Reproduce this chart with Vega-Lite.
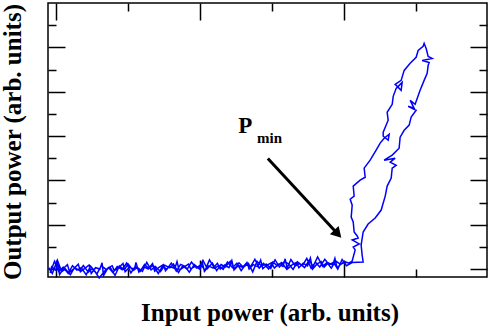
{
"$schema": "https://vega.github.io/schema/vega-lite/v6.json",
"width": 439, "height": 274,
"autosize": {"type": "none"},
"padding": {"left": 48, "top": 3, "right": 4, "bottom": 50},
"background": "white",
"config": {
  "view": {"stroke": "black", "strokeWidth": 1.5},
  "axis": {"domain": false, "labels": false, "grid": false, "tickColor": "black", "tickWidth": 1.5,
    "tickSize": {"condition": {"test": "datum.value % 2 === 0", "value": -17}, "value": -8},
    "titleFont": "Liberation Serif", "titleFontWeight": "bold", "titleFontSize": 25, "titleColor": "black"}
},
"datasets": {
  "trace": [
{"x":-0.10,"y":0.06},{"x":-0.05,"y":-0.20},{"x":0.02,"y":0.40},{"x":0.08,"y":-0.12},{"x":0.13,"y":0.01},{"x":0.20,"y":-0.26},{"x":0.26,"y":0.07},{"x":0.33,"y":-0.08},{"x":0.38,"y":0.16},{"x":0.45,"y":-0.14},{"x":0.50,"y":0.01},{"x":0.57,"y":-0.21},{"x":0.63,"y":0.15},{"x":0.70,"y":-0.03},{"x":0.75,"y":0.09},{"x":0.82,"y":-0.29},{"x":0.88,"y":0.14},{"x":0.95,"y":-0.04},{"x":1.00,"y":0.23},{"x":1.07,"y":-0.07},{"x":1.13,"y":0.07},{"x":1.20,"y":-0.10},{"x":1.26,"y":0.30},{"x":1.32,"y":-0.04},{"x":1.38,"y":0.11},{"x":1.45,"y":-0.12},{"x":1.51,"y":0.17},{"x":1.58,"y":0.05},{"x":1.63,"y":0.23},{"x":1.70,"y":-0.16},{"x":1.76,"y":0.15},{"x":1.82,"y":-0.02},{"x":1.88,"y":0.31},{"x":1.95,"y":0.05},{"x":2.01,"y":0.19},{"x":2.07,"y":-0.06},{"x":2.13,"y":0.41},{"x":2.20,"y":0.04},{"x":2.26,"y":0.15},{"x":2.32,"y":-0.01},{"x":2.38,"y":0.32},{"x":2.45,"y":0.06},{"x":2.51,"y":0.26},{"x":2.57,"y":-0.07},{"x":2.63,"y":0.20},{"x":2.70,"y":0.11},{"x":2.76,"y":0.44},{"x":2.82,"y":0.04},{"x":2.88,"y":0.25},{"x":2.95,"y":0.00},{"x":3.01,"y":0.32},{"x":3.07,"y":0.15},{"x":3.13,"y":0.29},{"x":3.20,"y":0.00},{"x":3.26,"y":0.43},{"x":3.32,"y":0.14},{"x":3.38,"y":0.24},{"x":3.45,"y":0.06},{"x":3.51,"y":0.38},{"x":3.57,"y":0.13},{"x":3.63,"y":0.55},{"x":3.70,"y":0.12},{"x":3.76,"y":0.29},{"x":3.82,"y":0.04},{"x":3.88,"y":0.37},{"x":3.95,"y":0.20},{"x":4.00,"y":0.33},{"x":4.06,"y":0.27},
{"x":4.110,"y":0.36},{"x":4.151,"y":0.86},{"x":4.124,"y":0.99},{"x":4.207,"y":1.13},{"x":4.110,"y":1.31},{"x":4.193,"y":1.40},{"x":4.179,"y":1.49},{"x":4.137,"y":1.67},{"x":4.124,"y":2.12},{"x":4.096,"y":2.34},{"x":4.110,"y":2.88},{"x":4.082,"y":3.15},{"x":4.137,"y":3.29},{"x":4.124,"y":3.74},{"x":4.220,"y":4.01},{"x":4.290,"y":4.14},{"x":4.276,"y":4.55},{"x":4.359,"y":4.91},{"x":4.442,"y":5.36},{"x":4.498,"y":5.68},{"x":4.553,"y":5.90},{"x":4.623,"y":6.08},{"x":4.609,"y":5.81},{"x":4.540,"y":5.99},{"x":4.540,"y":6.17},{"x":4.609,"y":6.71},{"x":4.595,"y":7.07},{"x":4.665,"y":7.43},{"x":4.679,"y":7.79},{"x":4.720,"y":8.15},{"x":4.803,"y":8.42},{"x":4.789,"y":8.06},{"x":4.706,"y":8.33},{"x":4.789,"y":8.51},{"x":4.831,"y":8.96},{"x":4.914,"y":9.28},{"x":4.997,"y":9.55},{"x":5.025,"y":9.86},{"x":5.094,"y":10.05},{"x":5.108,"y":10.18},{"x":5.136,"y":9.95},{"x":5.164,"y":9.59},{"x":5.219,"y":9.50},{"x":5.081,"y":9.41},{"x":5.178,"y":9.32},{"x":5.164,"y":9.19},{"x":5.150,"y":8.83},{"x":5.108,"y":8.51},{"x":5.052,"y":8.06},{"x":4.983,"y":7.43},{"x":4.914,"y":7.61},{"x":4.969,"y":7.25},{"x":4.886,"y":7.34},{"x":4.997,"y":7.16},{"x":4.928,"y":6.85},{"x":4.900,"y":6.49},{"x":4.831,"y":6.26},{"x":4.775,"y":5.95},{"x":4.761,"y":5.45},{"x":4.665,"y":5.14},{"x":4.553,"y":4.91},{"x":4.706,"y":5.00},{"x":4.637,"y":4.82},{"x":4.720,"y":4.68},{"x":4.665,"y":4.55},{"x":4.651,"y":4.10},{"x":4.595,"y":3.74},{"x":4.568,"y":3.29},{"x":4.512,"y":2.66},{"x":4.429,"y":2.30},{"x":4.331,"y":2.03},{"x":4.262,"y":1.67},{"x":4.234,"y":1.08},{"x":4.248,"y":0.63},{"x":4.262,"y":0.32},{"x":4.110,"y":0.29},
{"x":4.03,"y":0.15},{"x":3.97,"y":0.43},{"x":3.91,"y":-0.01},{"x":3.85,"y":0.30},{"x":3.79,"y":0.19},{"x":3.73,"y":0.44},{"x":3.66,"y":0.09},{"x":3.60,"y":0.31},{"x":3.54,"y":0.04},{"x":3.48,"y":0.48},{"x":3.42,"y":0.15},{"x":3.35,"y":0.32},{"x":3.29,"y":-0.02},{"x":3.23,"y":0.22},{"x":3.17,"y":0.34},{"x":3.10,"y":0.09},{"x":3.04,"y":0.42},{"x":2.98,"y":0.02},{"x":2.92,"y":0.22},{"x":2.85,"y":0.14},{"x":2.79,"y":0.35},{"x":2.73,"y":-0.13},{"x":2.67,"y":0.25},{"x":2.60,"y":0.08},{"x":2.54,"y":0.28},{"x":2.48,"y":0.02},{"x":2.42,"y":0.35},{"x":2.35,"y":0.09},{"x":2.29,"y":0.20},{"x":2.23,"y":-0.07},{"x":2.17,"y":0.27},{"x":2.10,"y":0.01},{"x":2.04,"y":0.39},{"x":1.98,"y":0.04},{"x":1.92,"y":0.20},{"x":1.85,"y":-0.14},{"x":1.79,"y":0.12},{"x":1.73,"y":0.21},{"x":1.67,"y":-0.09},{"x":1.60,"y":0.27},{"x":1.54,"y":-0.01},{"x":1.48,"y":0.13},{"x":1.42,"y":-0.20},{"x":1.35,"y":0.17},{"x":1.29,"y":0.02},{"x":1.23,"y":0.21},{"x":1.17,"y":-0.10},{"x":1.10,"y":0.12},{"x":1.04,"y":-0.18},{"x":0.98,"y":0.27},{"x":0.92,"y":-0.03},{"x":0.85,"y":0.11},{"x":0.79,"y":-0.16},{"x":0.73,"y":0.07},{"x":0.67,"y":-0.11},{"x":0.60,"y":-0.40},{"x":0.54,"y":-0.10},{"x":0.48,"y":0.13},{"x":0.42,"y":-0.26},{"x":0.35,"y":0.06},{"x":0.29,"y":-0.05},{"x":0.23,"y":0.15},{"x":0.17,"y":-0.20},{"x":0.10,"y":0.08},{"x":0.04,"y":-0.12},{"x":-0.02,"y":0.35},{"x":-0.08,"y":-0.18},
{"x":-0.06,"y":0.10},{"x":0.00,"y":-0.05},{"x":0.03,"y":0.30},{"x":0.05,"y":-0.25},{"x":0.11,"y":0.05},{"x":0.16,"y":0.20},{"x":0.19,"y":-0.15},{"x":0.25,"y":0.02},{"x":0.31,"y":0.22},{"x":0.34,"y":-0.12},{"x":0.40,"y":0.03},{"x":0.46,"y":0.18},{"x":0.49,"y":-0.20},{"x":0.55,"y":0.06},{"x":0.61,"y":0.00},{"x":0.64,"y":0.28},{"x":0.66,"y":-0.30},{"x":0.72,"y":0.04},{"x":0.78,"y":0.15},{"x":0.81,"y":-0.08},{"x":0.87,"y":0.06},{"x":0.93,"y":0.25},{"x":0.96,"y":-0.12},{"x":1.02,"y":0.08},{"x":1.09,"y":-0.02},{"x":1.11,"y":0.30},{"x":1.15,"y":-0.14},{"x":1.22,"y":0.10},{"x":1.28,"y":0.00},{"x":1.34,"y":0.24},{"x":1.37,"y":-0.10},{"x":1.43,"y":0.08},{"x":1.49,"y":0.20},{"x":1.52,"y":-0.08},{"x":1.57,"y":0.12},{"x":1.65,"y":0.02},{"x":1.68,"y":0.34},{"x":1.71,"y":-0.06},{"x":1.78,"y":0.10},{"x":1.84,"y":0.22},{"x":1.87,"y":0.00},{"x":1.93,"y":0.12},{"x":2.00,"y":-0.02},{"x":2.03,"y":0.30},{"x":2.06,"y":-0.10},{"x":2.12,"y":0.14},{"x":2.18,"y":0.04},{"x":2.24,"y":0.26},{"x":2.28,"y":0.00},{"x":2.34,"y":0.18},{"x":2.40,"y":0.06},{"x":2.44,"y":0.38},{"x":2.47,"y":-0.04},{"x":2.53,"y":0.16},{"x":2.59,"y":0.08},{"x":2.65,"y":0.30},{"x":2.68,"y":0.00},{"x":2.74,"y":0.20},{"x":2.80,"y":0.10},{"x":2.84,"y":0.40},{"x":2.87,"y":0.02},{"x":2.93,"y":0.18},{"x":2.99,"y":0.28},{"x":3.03,"y":0.04},{"x":3.09,"y":0.22},{"x":3.15,"y":0.12},{"x":3.18,"y":0.46},{"x":3.21,"y":0.00},{"x":3.28,"y":0.20},{"x":3.34,"y":0.30},{"x":3.37,"y":0.06},{"x":3.43,"y":0.26},{"x":3.49,"y":0.14},{"x":3.53,"y":0.50},{"x":3.56,"y":0.00},{"x":3.62,"y":0.22},{"x":3.68,"y":0.34},{"x":3.72,"y":0.08},{"x":3.78,"y":0.28},{"x":3.84,"y":0.18},{"x":3.87,"y":0.48},{"x":3.90,"y":0.06},{"x":3.96,"y":0.24},{"x":4.02,"y":0.30},{"x":4.08,"y":0.26}
  ],
  "arrow": [{"x": 2.94, "y": 4.99, "x2": 3.91, "y2": 1.58}],
  "head": [{"x": 3.91, "y": 1.58}],
  "labelP": [{"x": 2.528, "y": 6.126, "label": "P"}],
  "labelMin": [{"x": 2.791, "y": 5.676, "label": "min"}]
},
"resolve": {"axis": {"x": "independent", "y": "independent"}},
"layer": [
  {
    "data": {"name": "trace"},
    "mark": {"type": "line", "color": "#0000ff", "strokeWidth": 1.5},
    "encoding": {
      "x": {"field": "x", "type": "quantitative", "scale": {"domain": [-0.11, 5.98], "nice": false, "zero": false},
        "axis": {"orient": "bottom", "values": [0,1,2,3,4,5], "title": "Input power (arb. units)", "titleX": 221.5, "titleY": 43, "titleBaseline": "alphabetic", "titleAlign": "center", "titleAnchor": null}},
      "y": {"field": "y", "type": "quantitative", "scale": {"domain": [-0.36, 12], "nice": false, "zero": false},
        "axis": {"orient": "left", "values": [0,1,2,3,4,5,6,7,8,9,10,11], "title": "Output power (arb. units)", "titleX": -28, "titleY": 138.5, "titleAngle": 270, "titleBaseline": "alphabetic", "titleAlign": "center", "titleAnchor": null}},
      "order": {"value": null}
    }
  },
  {
    "data": {"name": "arrow"},
    "mark": {"type": "rule", "color": "black", "strokeWidth": 3},
    "encoding": {
      "x": {"field": "x", "type": "quantitative", "scale": {"domain": [-0.11, 5.98], "nice": false, "zero": false},
        "axis": {"orient": "top", "values": [0,1,2,3,4,5], "title": null}},
      "y": {"field": "y", "type": "quantitative", "scale": {"domain": [-0.36, 12], "nice": false, "zero": false},
        "axis": {"orient": "right", "values": [0,1,2,3,4,5,6,7,8,9,10,11], "title": null}},
      "x2": {"field": "x2"},
      "y2": {"field": "y2"}
    }
  },
  {
    "data": {"name": "head"},
    "mark": {"type": "point", "shape": "triangle-up", "filled": true, "color": "black", "opacity": 1, "size": 144, "angle": 137.3},
    "encoding": {
      "x": {"field": "x", "type": "quantitative", "axis": null},
      "y": {"field": "y", "type": "quantitative", "axis": null}
    }
  },
  {
    "data": {"name": "labelP"},
    "mark": {"type": "text", "font": "Liberation Serif", "fontWeight": "bold", "fontSize": 23, "align": "left", "baseline": "alphabetic", "color": "black"},
    "encoding": {
      "x": {"field": "x", "type": "quantitative", "axis": null},
      "y": {"field": "y", "type": "quantitative", "axis": null},
      "text": {"field": "label"}
    }
  },
  {
    "data": {"name": "labelMin"},
    "mark": {"type": "text", "font": "Liberation Serif", "fontWeight": "bold", "fontSize": 15, "align": "left", "baseline": "alphabetic", "color": "black"},
    "encoding": {
      "x": {"field": "x", "type": "quantitative", "axis": null},
      "y": {"field": "y", "type": "quantitative", "axis": null},
      "text": {"field": "label"}
    }
  }
]
}
